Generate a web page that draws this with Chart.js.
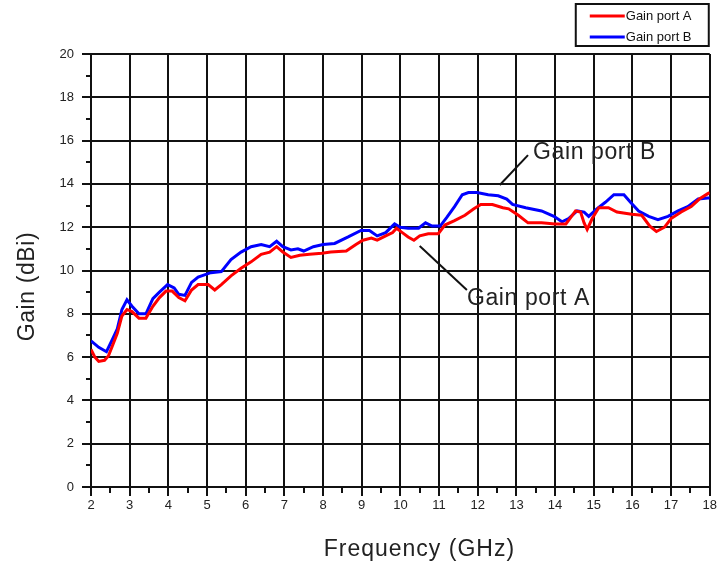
<!DOCTYPE html>
<html>
<head>
<meta charset="utf-8">
<script src="https://cdn.jsdelivr.net/npm/chart.js@4/dist/chart.umd.min.js"></script>
<style>
  html, body { margin: 0; padding: 0; background: #fff; }
  #wrap { width: 719px; height: 568px; }
</style>
</head>
<body>
<div id="wrap"><canvas id="gainChart"></canvas></div>
<script>
// values
const freqA = [2.0, 2.1, 2.2, 2.35, 2.45, 2.55, 2.68, 2.8, 2.93, 3.06, 3.24, 3.42, 3.6, 3.77, 3.94, 4.1, 4.27, 4.43, 4.6, 4.77,
    5.03, 5.2, 5.37, 5.62, 5.88, 6.14, 6.4, 6.62, 6.8, 6.96, 7.17, 7.4, 7.65, 7.97, 8.2, 8.6, 8.85, 9.03, 9.25, 9.4,
    9.62, 9.8, 9.9, 10.05, 10.2, 10.35, 10.5, 10.72, 10.98, 11.15, 11.4, 11.67, 11.9, 12.08, 12.38, 12.65, 12.8, 13.05, 13.3, 13.65,
    14.0, 14.28, 14.53, 14.66, 14.75, 14.83, 14.96, 15.13, 15.38, 15.6, 15.98, 16.24, 16.45, 16.62, 16.83, 17.0, 17.26, 17.52, 17.73, 17.95, 18.0];
const gainA = [6.35, 6.0, 5.8, 5.85, 6.05, 6.5, 7.1, 7.9, 8.2, 8.1, 7.8, 7.8, 8.35, 8.75, 9.05, 9.05, 8.75, 8.6, 9.1, 9.35,
    9.35, 9.1, 9.35, 9.75, 10.1, 10.4, 10.75, 10.85, 11.1, 10.85, 10.6, 10.7, 10.75, 10.8, 10.85, 10.9, 11.2, 11.4, 11.5, 11.4,
    11.6, 11.75, 11.95, 11.75, 11.55, 11.4, 11.6, 11.7, 11.7, 12.1, 12.3, 12.55, 12.85, 13.05, 13.05, 12.9, 12.85, 12.55, 12.2, 12.2,
    12.15, 12.15, 12.75, 12.7, 12.2, 11.9, 12.4, 12.9, 12.9, 12.7, 12.6, 12.55, 12.05, 11.8, 12.0, 12.4, 12.7, 12.95, 13.3, 13.55, 13.6];

const freqB = [2.0, 2.2, 2.4, 2.55, 2.68, 2.8, 2.93, 3.06, 3.24, 3.42, 3.6, 3.77, 3.98, 4.15, 4.27, 4.43, 4.6, 4.77, 5.1, 5.37,
    5.62, 5.88, 6.14, 6.4, 6.62, 6.8, 6.96, 7.17, 7.35, 7.5, 7.75, 8.0, 8.3, 8.65, 8.98, 9.2, 9.4, 9.62, 9.85, 10.0,
    10.2, 10.47, 10.65, 10.82, 11.03, 11.2, 11.4, 11.6, 11.76, 11.98, 12.27, 12.53, 12.75, 12.9, 13.24, 13.65, 13.97, 14.18, 14.35, 14.57,
    14.75, 14.87, 15.08, 15.3, 15.52, 15.78, 15.95, 16.16, 16.42, 16.66, 16.92, 17.18, 17.43, 17.7, 17.95, 18.0];
const gainB = [6.75, 6.45, 6.25, 6.8, 7.3, 8.2, 8.65, 8.35, 8.0, 8.0, 8.7, 9.0, 9.35, 9.2, 8.9, 8.85, 9.45, 9.7, 9.9, 9.95,
    10.5, 10.85, 11.1, 11.2, 11.1, 11.35, 11.1, 10.95, 11.0, 10.9, 11.1, 11.2, 11.25, 11.55, 11.85, 11.85, 11.6, 11.75, 12.15, 12.0,
    11.95, 11.95, 12.2, 12.05, 12.05, 12.45, 12.95, 13.5, 13.6, 13.6, 13.5, 13.45, 13.3, 13.05, 12.9, 12.75, 12.5, 12.25, 12.4, 12.75,
    12.7, 12.5, 12.85, 13.15, 13.5, 13.5, 13.15, 12.75, 12.5, 12.35, 12.5, 12.75, 12.95, 13.3, 13.35, 13.35];

const seriesNames = ['Gain port A', 'Gain port B'];
const seriesColors = ['#ff0000', '#0000ff'];

// callouts: label, arrow tail (on curve), arrow head / text anchor, in data units
const callouts = [
    { text: 'Gain port B', from: [12.57, 13.95], to: [13.3, 15.33], textAt: [13.43, 15.43] },
    { text: 'Gain port A', from: [10.5, 11.13], to: [11.72, 9.1], textAt: [11.72, 8.68] }
];

const FONT = '"Liberation Sans", Arial, sans-serif';
const INK = '#111';

const toPoints = (xs, ys) => xs.map((x, i) => ({ x: x, y: ys[i] }));

const extras = {
    id: 'extras',
    afterDraw(chart) {
        const ctx = chart.ctx;
        const xs = chart.scales.x, ys = chart.scales.y;
        const area = chart.chartArea;
        ctx.save();

        // minor ticks
        ctx.strokeStyle = INK;
        ctx.lineWidth = 2;
        ctx.beginPath();
        for (let v = 1; v < 20; v += 2) {
            const py = Math.round(ys.getPixelForValue(v));
            ctx.moveTo(area.left - 5, py);
            ctx.lineTo(area.left, py);
        }
        for (let v = 2.5; v < 18; v += 1) {
            const px = Math.round(xs.getPixelForValue(v));
            ctx.moveTo(px, area.bottom);
            ctx.lineTo(px, area.bottom + 6);
        }
        ctx.stroke();

        // axis titles
        ctx.fillStyle = '#222';
        ctx.font = '23px ' + FONT;
        ctx.textAlign = 'center';
        ctx.textBaseline = 'middle';
        ctx.letterSpacing = '1px';
        ctx.fillText('Frequency (GHz)', (area.left + area.right) / 2 + 19, chart.height - 18);
        ctx.save();
        ctx.translate(28, (area.top + area.bottom) / 2 + 16);
        ctx.rotate(-Math.PI / 2);
        ctx.letterSpacing = '0.6px';
        ctx.fillText('Gain (dBi)', 0, 0);
        ctx.restore();

        // callouts
        ctx.letterSpacing = '0.6px';
        callouts.forEach(c => {
            ctx.strokeStyle = INK;
            ctx.lineWidth = 2;
            ctx.beginPath();
            ctx.moveTo(xs.getPixelForValue(c.from[0]), ys.getPixelForValue(c.from[1]));
            ctx.lineTo(xs.getPixelForValue(c.to[0]), ys.getPixelForValue(c.to[1]));
            ctx.stroke();
            ctx.fillStyle = '#222';
            ctx.font = '23px ' + FONT;
            ctx.textAlign = 'left';
            ctx.fillText(c.text, xs.getPixelForValue(c.textAt[0]), ys.getPixelForValue(c.textAt[1]));
        });

        // legend box
        ctx.letterSpacing = '0px';
        const bx = area.right - 134, by = 4, bw = 133, bh = 42;
        ctx.strokeStyle = INK;
        ctx.lineWidth = 2;
        ctx.strokeRect(bx, by, bw, bh);
        chart.data.datasets.forEach((ds, i) => {
            const ly = by + 12 + i * 21;
            ctx.strokeStyle = ds.borderColor;
            ctx.lineWidth = 3;
            ctx.beginPath();
            ctx.moveTo(bx + 14, ly);
            ctx.lineTo(bx + 49, ly);
            ctx.stroke();
            ctx.fillStyle = '#111';
            ctx.font = '13px ' + FONT;
            ctx.textAlign = 'left';
            ctx.fillText(ds.label, bx + 50, ly);
        });
        ctx.restore();
    }
};

new Chart(document.getElementById('gainChart'), {
    type: 'line',
    data: {
        datasets: [
            {
                label: seriesNames[0],
                data: toPoints(freqA, gainA),
                borderColor: seriesColors[0],
                borderWidth: 3,
                pointRadius: 0,
                tension: 0
            },
            {
                label: seriesNames[1],
                data: toPoints(freqB, gainB),
                borderColor: seriesColors[1],
                borderWidth: 3,
                pointRadius: 0,
                tension: 0
            }
        ]
    },
    options: {
        responsive: true,
        maintainAspectRatio: false,
        animation: false,
        layout: { padding: { top: 54, right: 9, left: 0, bottom: 0 } },
        plugins: {
            legend: { display: false },
            tooltip: { enabled: false }
        },
        scales: {
            x: {
                type: 'linear',
                min: 2,
                max: 18,
                afterFit(scale) { scale.height = 81; },
                ticks: {
                    stepSize: 1,
                    padding: 2,
                    color: '#222',
                    font: { family: FONT, size: 13 }
                },
                grid: { color: INK, lineWidth: 2, tickLength: 9 },
                border: { color: INK, width: 2 }
            },
            y: {
                min: 0,
                max: 20,
                afterFit(scale) { scale.width = 91; },
                ticks: {
                    stepSize: 2,
                    padding: 8,
                    color: '#222',
                    font: { family: FONT, size: 13 }
                },
                grid: { color: INK, lineWidth: 2, tickLength: 9 },
                border: { color: INK, width: 2 }
            }
        }
    },
    plugins: [extras]
});
</script>
</body>
</html>
